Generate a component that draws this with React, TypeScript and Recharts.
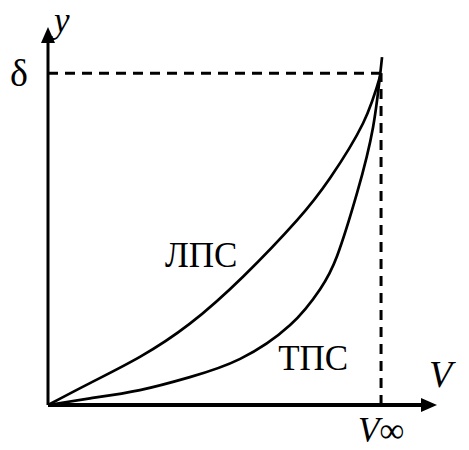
import React from "react";
import { LineChart, Line, XAxis, YAxis, ReferenceLine, ReferenceDot } from "recharts";

// Boundary-layer velocity profiles, V / V∞ against y / δ
const laminarV = [0, 0.126, 0.276, 0.426, 0.587, 0.748, 0.847, 0.946, 1];
const laminarY = [0, 0.066, 0.145, 0.245, 0.388, 0.557, 0.684, 0.849, 1];
const turbulentV = [0, 0.126, 0.276, 0.426, 0.577, 0.727, 0.817, 0.868, 0.928, 0.976, 1.003];
const turbulentY = [0, 0.02, 0.045, 0.084, 0.139, 0.241, 0.349, 0.449, 0.639, 0.837, 1.048];

const labels = ["ЛПС", "ТПС"];
const axisMax = { v: 1.168, y: 1.139 };

const laminar = laminarV.map((x, i) => ({ x, y: laminarY[i] }));
const turbulent = turbulentV.map((x, i) => ({ x, y: turbulentY[i] }));

const serif = '"Liberation Serif", "Times New Roman", serif';

// axis line with a filled arrowhead at its far end
const arrowAxis = (width: number) => (p: any) => {
  const { x1, y1, x2, y2 } = p;
  const len = Math.hypot(x2 - x1, y2 - y1) || 1;
  const ux = (x2 - x1) / len;
  const uy = (y2 - y1) / len;
  const head = 16;
  const half = 7;
  const bx = x2 - ux * head;
  const by = y2 - uy * head;
  return (
    <g>
      <line x1={x1} y1={y1} x2={bx} y2={by} stroke="#000" strokeWidth={width} />
      <polygon
        points={`${x2},${y2} ${bx - uy * half},${by + ux * half} ${bx + uy * half},${by - ux * half}`}
        fill="#000"
      />
    </g>
  );
};

const textAt =
  (content: React.ReactNode, dx: number, dy: number, size: number, italic = false) =>
  (p: any) =>
    (
      <text
        x={p.cx + dx}
        y={p.cy + dy}
        fontFamily={serif}
        fontSize={size}
        fontStyle={italic ? "italic" : "normal"}
        fill="#000"
      >
        {content}
      </text>
    );

const App = () => {
  return (
    <div style={{ position: "absolute", left: 0, top: 0, background: "#fff" }}>
      <LineChart
        width={469}
        height={450}
        margin={{ top: 27, right: 32, bottom: 45, left: 48 }}
      >
        <XAxis type="number" dataKey="x" domain={[0, axisMax.v]} hide />
        <YAxis type="number" dataKey="y" domain={[0, axisMax.y]} hide />
        <ReferenceLine
          segment={[{ x: 0, y: 1 }, { x: 1, y: 1 }]}
          stroke="#000"
          strokeWidth={3}
          strokeDasharray="10 7"
        />
        <ReferenceLine
          segment={[{ x: 1, y: 0 }, { x: 1, y: 1 }]}
          stroke="#000"
          strokeWidth={3}
          strokeDasharray="10 7"
        />
        <ReferenceLine
          segment={[{ x: 0, y: 0 }, { x: axisMax.v, y: 0 }]}
          shape={arrowAxis(4)}
          ifOverflow="visible"
        />
        <ReferenceLine
          segment={[{ x: 0, y: 0 }, { x: 0, y: axisMax.y }]}
          shape={arrowAxis(3)}
          ifOverflow="visible"
        />
        <Line
          data={laminar}
          dataKey="y"
          type="natural"
          stroke="#000"
          strokeWidth={2.7}
          dot={false}
          isAnimationActive={false}
        />
        <Line
          data={turbulent}
          dataKey="y"
          type="natural"
          stroke="#000"
          strokeWidth={2.7}
          dot={false}
          isAnimationActive={false}
        />
        <ReferenceDot x={0} y={1} r={0} shape={textAt("δ", -38, 13, 38)} ifOverflow="visible" />
        <ReferenceDot x={0} y={axisMax.y} r={0} shape={textAt("y", 6, 5, 35, true)} ifOverflow="visible" />
        <ReferenceDot x={axisMax.v} y={0} r={0} shape={textAt("V", -8, -18, 38, true)} ifOverflow="visible" />
        <ReferenceDot
          x={1}
          y={0}
          r={0}
          ifOverflow="visible"
          shape={textAt(
            <>
              <tspan fontStyle="italic">V</tspan>
              <tspan>∞</tspan>
            </>,
            -23,
            37,
            35
          )}
        />
        <ReferenceDot x={0.351} y={0.416} r={0} shape={textAt(labels[0], 0, 0, 35)} ifOverflow="visible" />
        <ReferenceDot x={0.691} y={0.105} r={0} shape={textAt(labels[1], 0, 0, 35)} ifOverflow="visible" />
      </LineChart>
    </div>
  );
};

export default App;
